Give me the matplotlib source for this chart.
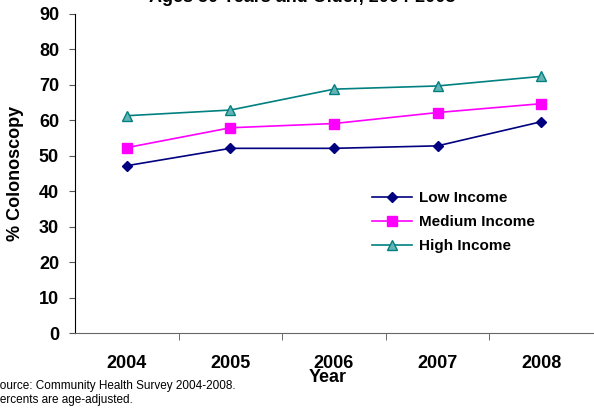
import matplotlib.pyplot as plt
import numpy as np

plt.rcParams['font.family'] = ['Liberation Sans', 'DejaVu Sans']

years = ['2004', '2005', '2006', '2007', '2008']
low_income = [47.2, 52.1, 52.1, 52.8, 59.6]
medium_income = [52.3, 57.9, 59.1, 62.2, 64.7]
high_income = [61.3, 62.9, 68.8, 69.7, 72.4]
yticks = [0, 10, 20, 30, 40, 50, 60, 70, 80, 90]

fig = plt.figure(figsize=(5.94, 4.08), dpi=100)
ax = fig.add_axes([75 / 594, 1 - 333 / 408, (593 - 75) / 594, (333 - 14) / 408])

x = np.arange(len(years))
ax.plot(x, low_income, color='#000080', lw=1.2, marker='D', ms=5.5,
        mfc='#000080', mec='#000080', label='Low Income')
ax.plot(x, medium_income, color='#FF00FF', lw=1.2, marker='s', ms=6.5,
        mfc='#FF00FF', mec='#FF00FF', label='Medium Income')
ax.plot(x, high_income, color='#008080', lw=1.2, marker='^', ms=7,
        mfc='#66B3B3', mec='#008080', label='High Income')

ax.set_xlim(-0.5, 4.5)
ax.set_ylim(0, 90)

ax.spines['top'].set_visible(False)
ax.spines['right'].set_visible(False)
ax.spines['bottom'].set_color('#666666')

ax.set_yticks(yticks)
ax.set_yticklabels([str(v) for v in yticks], fontsize=13, fontweight='bold')
ax.tick_params(axis='y', length=4.5, color='#555555', pad=7)

ax.set_xticks(x)
ax.set_xticklabels(years, fontsize=13, fontweight='bold')
ax.tick_params(axis='x', which='major', length=0, pad=16)
ax.set_xticks(x[:-1] + 0.5, minor=True)
ax.tick_params(axis='x', which='minor', length=5, color='#555555')

fig.text(16 / 594, 1 - 173 / 408, '% Colonoscopy', fontsize=13, fontweight='bold',
         rotation=90, ha='center', va='center')
fig.text(328 / 594, 1 - 377 / 408, 'Year', fontsize=13, fontweight='bold',
         ha='center', va='center')

fig.text(302 / 594, 1 - 2 / 408, 'Ages 50 Years and Older, 2004-2008',
         fontsize=13, fontweight='bold', ha='center', va='baseline')

fig.text(-8 / 594, 1 - 386 / 408, 'Source: Community Health Survey 2004-2008.',
         fontsize=8.5, ha='left', va='center')
fig.text(-8 / 594, 1 - 400 / 408, 'Percents are age-adjusted.',
         fontsize=8.5, ha='left', va='center')

ax.legend(loc='upper left', bbox_to_anchor=(366 / 594, 1 - 185 / 408),
          bbox_transform=fig.transFigure, frameon=False,
          prop={'size': 11, 'weight': 'bold'}, handlelength=2.6,
          handletextpad=0.5, labelspacing=0.65, borderaxespad=0)

fig.savefig('out.png', dpi=100)
